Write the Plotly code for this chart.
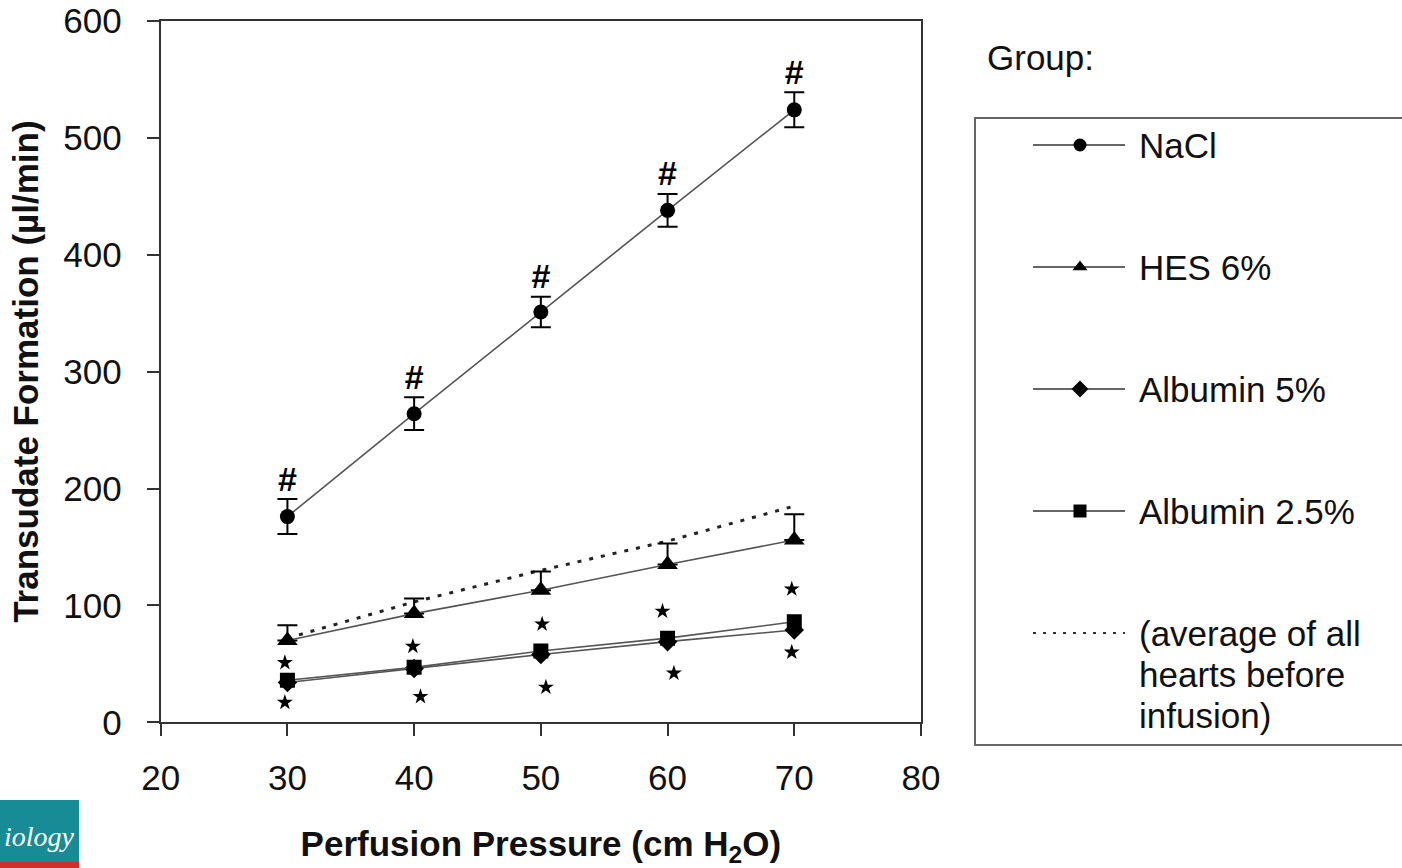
import plotly.graph_objects as go

# Perfusion pressure (cm H2O)
pressure = [30, 40, 50, 60, 70]

# Transudate formation (µl/min), mean and SEM per group
nacl = [176, 264, 351, 438, 524]
nacl_err = [15, 14, 13, 14, 15]
hes = [70, 93, 113, 135, 156]
hes_err = [13, 13, 16, 18, 22]
alb5 = [34, 46, 58, 69, 79]
alb25 = [36, 47, 61, 72, 86]
baseline = [72, 103, 130, 155, 185]

# Significance markers
star_hi_x = [29.8, 39.9, 50.1, 59.6, 69.8]
star_hi_y = [51, 65, 84, 95, 114]
star_lo_x = [29.8, 40.5, 50.4, 60.5, 69.8]
star_lo_y = [17, 22, 30, 42, 60]

x_ticks = [20, 30, 40, 50, 60, 70, 80]
y_ticks = [0, 100, 200, 300, 400, 500, 600]

legend_names = ["NaCl", "HES 6%", "Albumin 5%", "Albumin 2.5%"]
legend_symbols = ["circle", "triangle-up", "diamond", "square"]
baseline_lines = ["(average of all", "hearts before", "infusion)"]

FONT = "Liberation Sans, Arial, sans-serif"
W, H = 1402, 868
line_col = "#555555"

fig = go.Figure()

# pre-infusion average (dotted)
fig.add_trace(go.Scatter(
    x=pressure, y=baseline, mode="lines",
    line=dict(color="#222222", width=3, dash="4px,8px"),
    showlegend=False, xaxis="x", yaxis="y"))

series = [
    (nacl, "circle", 15, dict(type="data", array=nacl_err, visible=True)),
    (hes, "triangle-up", 18, dict(type="data", array=hes_err, arrayminus=[0] * 5, visible=True)),
    (alb5, "diamond", 15, None),
    (alb25, "square", 15, None),
]
for vals, sym, size, err in series:
    kw = {}
    if err is not None:
        err.update(color="black", thickness=2, width=10)
        kw["error_y"] = err
    fig.add_trace(go.Scatter(
        x=pressure, y=vals, mode="lines+markers",
        line=dict(color=line_col, width=1.6),
        marker=dict(symbol=sym, size=size, color="black"),
        showlegend=False, xaxis="x", yaxis="y", **kw))

# '#' above the NaCl points
fig.add_trace(go.Scatter(
    x=pressure, y=[m + e for m, e in zip(nacl, nacl_err)],
    mode="text", text=["<b>#</b>"] * len(pressure), textposition="top center",
    textfont=dict(family=FONT, size=34, color="black"),
    showlegend=False, xaxis="x", yaxis="y"))

# stars
for sx, sy in [(star_hi_x, star_hi_y), (star_lo_x, star_lo_y)]:
    fig.add_trace(go.Scatter(
        x=sx, y=sy, mode="markers",
        marker=dict(symbol="star", size=12, color="black"),
        showlegend=False, xaxis="x", yaxis="y"))

# legend keys on their own axes
for i, sym in enumerate(legend_symbols):
    fig.add_trace(go.Scatter(
        x=[58, 150], y=[i, i], mode="lines",
        line=dict(color="#333", width=1.6),
        showlegend=False, xaxis="x2", yaxis="y2", cliponaxis=False))
    fig.add_trace(go.Scatter(
        x=[105], y=[i], mode="markers",
        marker=dict(symbol=sym, size=13, color="black"),
        showlegend=False, xaxis="x2", yaxis="y2", cliponaxis=False))
fig.add_trace(go.Scatter(
    x=[58, 150], y=[4, 4], mode="lines",
    line=dict(color="#333333", width=2, dash="3px,7px"),
    showlegend=False, xaxis="x2", yaxis="y2", cliponaxis=False))

annotations = []
for i, name in enumerate(legend_names):
    annotations.append(dict(x=162, y=i, xref="x2", yref="y2", text=name,
                            showarrow=False, xanchor="left", yanchor="middle",
                            font=dict(family=FONT, size=35, color="#111")))
for j, txt in enumerate(baseline_lines):
    annotations.append(dict(x=162, y=4 + j * 41 / 122, xref="x2", yref="y2", text=txt,
                            showarrow=False, xanchor="left", yanchor="middle",
                            font=dict(family=FONT, size=35, color="#111")))
annotations.append(dict(x=985 / W, y=1 - 57 / H, xref="paper", yref="paper", text="Group:",
                        showarrow=False, xanchor="left", yanchor="middle",
                        font=dict(family=FONT, size=35, color="#111")))
# journal badge
annotations.append(dict(x=2 / W, y=1 - 836 / H, xref="paper", yref="paper", text="<i>iology</i>",
                        showarrow=False, xanchor="left", yanchor="middle",
                        font=dict(family="Liberation Serif, serif", size=28, color="white")))

shapes = [
    dict(type="rect", xref="x2 domain", yref="y2 domain", x0=0, x1=1.05, y0=0, y1=1,
         line=dict(color="#666", width=2), fillcolor="rgba(0,0,0,0)"),
    dict(type="rect", xref="paper", yref="paper", x0=0, x1=79 / W, y0=0, y1=1 - 800 / H,
         line=dict(width=0), fillcolor="#178c96", layer="below"),
    dict(type="rect", xref="paper", yref="paper", x0=0, x1=79 / W, y0=0, y1=6 / H,
         line=dict(width=0), fillcolor="#d0302a", layer="below"),
]

axis_common = dict(showline=True, linecolor="#333", linewidth=2, mirror=True,
                   ticks="outside", ticklen=12, tickwidth=2, tickcolor="#333",
                   showgrid=False, zeroline=False,
                   tickfont=dict(family=FONT, size=35, color="#111"))

fig.update_layout(
    width=W, height=H,
    margin=dict(l=0, r=0, t=0, b=0, autoexpand=False),
    paper_bgcolor="white", plot_bgcolor="rgba(0,0,0,0)",
    xaxis=dict(domain=[160.7 / W, 921 / W], range=[20, 80], tickvals=x_ticks,
               ticklabelstandoff=12,
               title=dict(text="<b>Perfusion Pressure (cm H<sub>2</sub>O)</b>", standoff=38,
                          font=dict(family=FONT, size=35, color="#111")),
               **axis_common),
    yaxis=dict(domain=[1 - 722.3 / H, 1 - 21 / H], range=[0, 600], tickvals=y_ticks,
               ticklabelstandoff=18,
               title=dict(text="<b>Transudate Formation (µl/min)</b>", standoff=14,
                          font=dict(family=FONT, size=35, color="#111")),
               **axis_common),
    xaxis2=dict(domain=[975 / W, 1.0], range=[0, 427], visible=False, anchor="y2"),
    yaxis2=dict(domain=[1 - 745 / H, 1 - 118 / H], range=[4.918, -0.2213], visible=False, anchor="x2"),
    annotations=annotations,
    shapes=shapes,
)

fig.write_html("out.html")
